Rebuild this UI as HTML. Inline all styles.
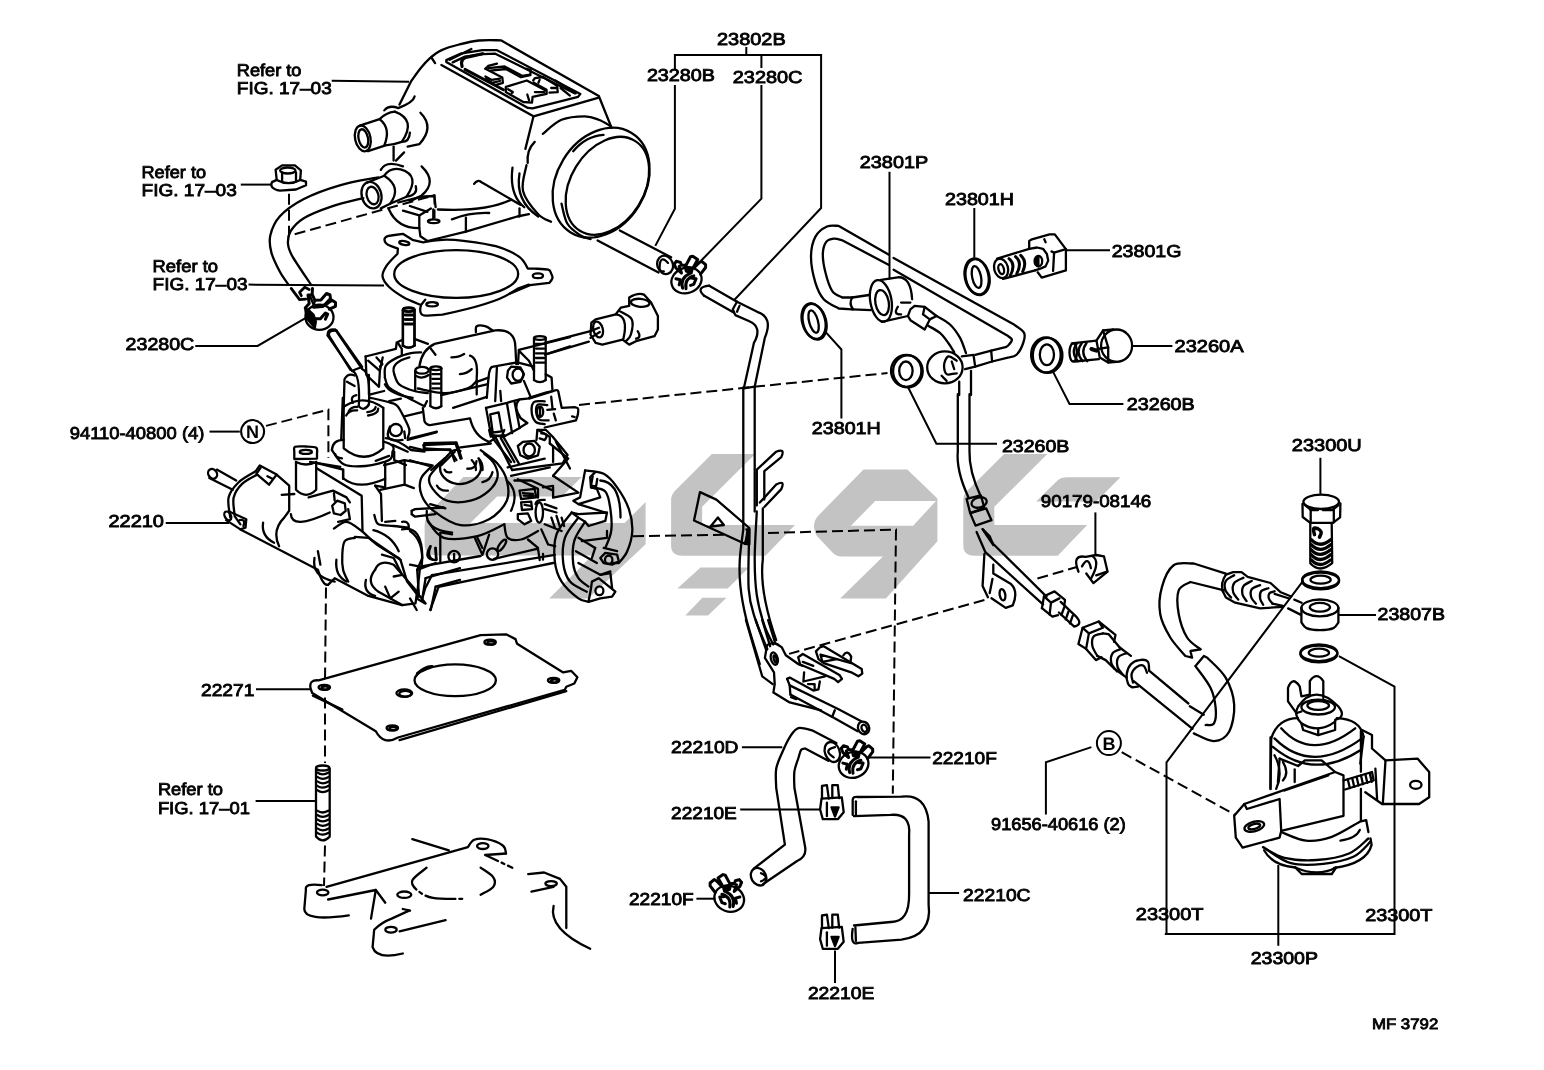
<!DOCTYPE html>
<html><head><meta charset="utf-8"><title>Carburetor assembly diagram</title>
<style>
html,body{margin:0;padding:0;background:#fff}
body{width:1544px;height:1070px;overflow:hidden}
svg{display:block}
text{text-rendering:geometricPrecision;font-family:"Liberation Sans",sans-serif;fill:#000;stroke:#000;stroke-width:.85px}
.wm{fill:#c3c3c3;stroke:none}
.ln{fill:none;stroke:#000;stroke-width:2.3;stroke-linecap:round;stroke-linejoin:round}
.wf{fill:#fff;stroke:#000;stroke-width:2;stroke-linecap:round;stroke-linejoin:round}
.ld{fill:none;stroke:#000;stroke-width:2;stroke-linecap:butt;stroke-linejoin:miter}
.ds{fill:none;stroke:#000;stroke-width:2;stroke-dasharray:11 5}
</style></head><body>
<svg width="1544" height="1070" viewBox="0 0 1544 1070">
<defs><filter id="nf" filterUnits="userSpaceOnUse" x="0" y="0" width="1544" height="1070"><feOffset dx="0" dy="0"/></filter></defs>
<rect width="1544" height="1070" fill="#fff"/>
<g class="wm">
<path d="M1004.1 454.1L1047.3 454.1L994.3 506.7L994.3 525.0L1087.2 525.0L1057.7 555.8L975.0 555.8Q963.3 555.8 963.3 545.8L963.3 500Q963.3 495 967.0 491Z"/>
<path d="M711.9 454.1L755.1 454.1L702.1 506.7L702.1 525.0L795.0 525.0L765.5 555.8L682.8 555.8Q671.1 555.8 671.1 545.8L671.1 500Q671.1 495 674.8 491Z"/>
<path d="M1066 477.3L1120.5 477.3L1096.3 501.5L1036.1 501.5L1058 480Q1061 477.3 1066 477.3Z"/>
<path fill-rule="evenodd" d="M863.5 469.4L907.3 469.4L937.4 498.6L937.4 541.3L885.9 598.6L840.2 598.6L883 556.5L842 556.5Q836 556.5 832 552L817 536Q814 532 814 527Q814 520 818 516Z M875.2 500.9L936 500.9L913.1 525.8L850.9 525.8Z"/>
<path d="M700.6 567.5L748.8 567.5L727.7 588.6L677.3 588.6Z"/>
<path d="M702.4 597.7L726.5 597.7L708 615.5L685.3 615.5Z"/>
<path d="M463.4 477L581.6 477L562 496.5L497 496.5L470.4 523.1L624.5 523.1L645.6 502.1L645.6 544.2L588.1 598.4L549.2 598.4L592.2 555.5L437 555.5Q424.6 555.5 424.6 544L424.6 526Q424.6 518 430 512Z"/>
</g>
<g class="ds">
<path d="M289.0 193.7L289.0 235.8L434.5 195.3"/>
<path d="M417.0 198.0L434.5 195.3L434.5 218.0"/>
<path d="M266.0 425.9L328.4 409.7L328.4 457.9"/>
<path d="M326.0 587.5L325.0 682.0"/>
<path d="M325.0 697.5L325.0 763.0"/>
<path d="M325.0 845.6L324.0 886.0"/>
<path d="M579.0 405.0L887.5 373.0"/>
<path d="M633.0 536.3L724.2 534.7"/>
<path d="M768.0 533.0L896.0 529.6L895.1 600.0L892.8 793.7"/>
<path d="M984.4 600.0L789.0 653.9"/>
<path d="M1037.4 578.5L1077.8 566.7"/>
<path d="M1121.7 752.2L1234.5 814.5"/>
</g>
<g class="ln">
<path d="M399.5 104.6L411.1 81.3C412.7 79.2 417.3 72.3 420.4 68.5C423.6 64.6 426.5 61.3 430.0 58.2C433.5 55.1 436.8 52.3 441.7 50.1C446.5 47.8 452.9 46.0 459.1 44.5C465.4 42.9 472.0 41.2 479.0 40.5C485.9 39.8 497.2 40.3 500.9 40.3L598.8 96.0L611.6 127.9"/>
<path d="M441.4 65.0L533.5 116.3L598.8 97.6"/>
<path d="M533.5 116.3L525.4 148.9"/>
<path d="M431.4 57.5L435.1 63.1"/>
<path d="M446.3 60.1L460.3 53.7L482.5 50.2L497.0 50.2L580.4 93.9L578.1 96.8L532.6 108.4L527.9 107.9L446.3 62.0Z"/>
<path d="M452.7 62.4L465.0 56.6L482.5 54.2L495.3 53.7L574.6 93.3"/>
<path d="M449.8 59.7L471.4 49.0"/>
<path d="M462.1 66.5Q459.4 57.4 469.6 56.6L482.5 53.7" style="stroke-width:3.2"/>
<path d="M465.0 69.4L503.4 89.8" style="stroke-width:3"/>
<path d="M485.4 68.8L488.3 65.9L497.0 63.6"/>
<path d="M488.3 68.2L504.6 66.5L522.1 75.8L530.3 74.6L530.8 70.0L526.8 68.8"/>
<path d="M485.4 68.8L502.3 77.6L502.9 82.8L495.3 85.1"/>
<path d="M490.6 70.6L505.8 69.0L520.9 77.2L530.3 75.2"/>
<path d="M485.4 76.4L491.8 79.9L499.9 78.7"/>
<path d="M486.0 78.1L491.8 82.8L499.9 81.0"/>
<path d="M505.8 86.9L526.8 80.5L546.6 91.0L546.6 93.9L532.6 96.8L532.0 102.6L523.3 102.0L505.8 92.1Z"/>
<path d="M508.1 89.2L512.8 92.1L511.6 93.3"/>
<path d="M527.3 94.5L529.1 100.3"/>
<path d="M534.9 92.1L544.2 92.1"/>
<path d="M533.2 80.5L534.9 78.1L543.1 77.0L557.1 85.7L557.7 92.1L549.5 92.7"/>
<path d="M533.8 82.8L546.6 89.8"/>
<path d="M539.6 79.9L538.4 82.8"/>
<path d="M551.2 88.0L555.9 88.0"/>
<path d="M555.3 80.5L575.7 93.3"/>
<path d="M560.6 88.0L569.9 95.6"/>
<ellipse cx="601.1" cy="182.7" rx="44.3" ry="58.3" transform="rotate(31.5 601.1 182.7)"/>
<ellipse cx="607.4" cy="185.8" rx="36.8" ry="52.7" transform="rotate(31.5 607.4 185.8)"/>
<path d="M561.5 203.7C562.5 207.0 564.2 218.3 567.3 223.5C570.4 228.8 576.3 232.6 580.2 235.2C584.0 237.8 588.9 238.5 590.6 239.1"/>
<path d="M573.2 151.2Q586.0 136.1 603.5 134.9"/>
<path d="M542.8 133.8C546.0 131.4 554.5 122.7 561.5 119.8C568.5 116.9 578.6 116.3 584.8 116.3C591.0 116.3 594.5 118.1 598.8 119.8C603.1 121.4 608.5 125.0 610.5 126.1"/>
<path d="M526.5 165.2C525.9 169.5 521.1 182.7 523.0 190.9C525.0 199.0 533.5 209.1 538.2 214.2C542.8 219.3 548.9 220.4 551.0 221.7"/>
<path d="M519.5 173.4Q514.9 200.8 538.2 216.5"/>
<path d="M512.5 167.6Q509.0 194.4 524.2 207.2"/>
<path d="M534.7 141.9Q526.5 150.1 527.7 162.9"/>
<path d="M597.6 240.5L658.5 272.5"/>
<path d="M619.8 230.5L671.1 257.3"/>
<ellipse cx="362.8" cy="138.4" rx="7.7" ry="13.1" transform="rotate(-12.0 362.8 138.4)"/>
<ellipse cx="363.3" cy="138.4" rx="4.7" ry="9.3" transform="rotate(-12.0 363.3 138.4)"/>
<path d="M359.8 125.6L379.6 119.1Q386.0 112.5 394.8 111.6"/>
<path d="M368.0 151.2L385.5 145.4Q393.6 144.8 401.8 141.9"/>
<path d="M379.6 119.1Q391.3 128.3 384.3 145.4"/>
<path d="M394.8 111.6Q416.9 119.8 401.8 141.9"/>
<path d="M384.3 110.4Q389.0 104.6 398.3 108.1Q413.4 102.3 414.6 96.5"/>
<path d="M401.8 141.9Q409.4 141.9 409.9 132.6"/>
<path d="M420.4 112.8Q435.0 127.3 419.3 144.2L407.6 146.6"/>
<path d="M393.6 146.6L393.6 160.6"/>
<path d="M396.0 160.6L404.1 152.4"/>
<ellipse cx="371.5" cy="195.1" rx="9.8" ry="13.5" transform="rotate(-15.0 371.5 195.1)"/>
<ellipse cx="372.6" cy="195.5" rx="5.8" ry="8.9" transform="rotate(-15.0 372.6 195.5)"/>
<path d="M366.8 182.7L384.3 175.7Q390.1 167.2 400.6 169.4Q421.0 175.4 406.5 196.7L390.1 203.7L380.8 208.4"/>
<path d="M384.3 175.7Q402.4 187.4 390.1 203.7"/>
<path d="M380.8 169.9Q386.0 160.0 403.0 166.4"/>
<path d="M421.6 166.4Q437.9 182.1 421.6 195.5L409.9 201.4"/>
<path d="M406.5 196.7Q418.1 195.0 415.8 186.2"/>
<path d="M389.0 209.5Q397.1 228.2 419.3 228.2L420.4 236.3L427.4 241.0L465.9 231.7L517.2 216.5L528.9 214.2"/>
<path d="M419.3 216.5L419.3 228.2"/>
<path d="M465.9 217.7L465.9 231.7"/>
<path d="M519.5 208.4L519.5 216.5"/>
<path d="M437.9 209.5Q485.1 212.1 511.4 199.7"/>
<path d="M451.9 219.3Q470.6 212.2 489.2 213.0"/>
<path d="M474.1 183.9Q477.6 179.2 481.1 182.0L520.7 204.9"/>
<path d="M398.3 202.5L421.6 196.7L434.4 196.0L435.6 207.2"/>
<path d="M403.0 210.7L419.3 215.4L430.9 208.4"/>
<path d="M433.3 209.5L433.3 218.9"/>
<ellipse cx="433.7" cy="221.2" rx="5.8" ry="1.9" transform="rotate(0.0 433.7 221.2)"/>
<path d="M409.9 206.0L427.4 211.9"/>
<path d="M276.7 179.9L275.6 169.7L282.1 165.4L294.9 165.4L300.9 170.3L300.2 179.9"/>
<ellipse cx="287.8" cy="170.5" rx="7.7" ry="3.0" transform="rotate(0.0 287.8 170.5)"/>
<path d="M276.7 179.9L272.0 182.1Q268.9 188.5 279.9 190.6L296.0 189.5L306.0 185.3L306.0 181.6L300.2 179.9"/>
<path d="M276.7 179.9Q288.5 186.3 300.2 179.9"/>
<path d="M282.1 172.4L282.1 182.1"/>
<path d="M296.0 172.4L296.0 181.6"/>
<path d="M378.2 177.4C371.8 178.7 352.2 181.6 339.8 185.3C327.3 188.9 313.4 194.0 303.4 199.2C293.5 204.3 285.4 210.2 279.9 216.3C274.4 222.3 271.7 229.4 270.3 235.5C268.9 241.5 269.8 246.5 271.4 252.6C273.0 258.6 277.1 266.5 279.9 271.8C282.8 277.2 287.0 282.5 288.5 284.6"/>
<path d="M363.3 198.1C357.9 199.5 341.2 203.3 331.2 206.6C321.2 210.0 310.2 214.3 303.4 218.4C296.7 222.5 293.2 226.9 290.6 231.2C288.0 235.5 287.7 239.8 288.0 244.0C288.4 248.3 288.9 250.1 292.7 256.9C296.6 263.6 307.9 280.0 310.9 284.6"/>
<ellipse cx="319.5" cy="317.3" rx="14.0" ry="12.6" transform="rotate(0.0 319.5 317.3)"/>
<path d="M305.2 308.0L306.3 318.1L314.8 327.7L315.9 321.5L313.6 314.8L309.2 310.6Z" style="fill:#000"/>
<path d="M314.8 318.7L320.4 318.7L325.4 313.1L327.7 314.2L325.4 319.2" style="stroke-width:3"/>
<path d="M305.2 308.0L309.2 303.5L308.0 295.1L312.5 295.1L314.8 300.2L320.9 299.9L326.5 293.5L329.9 294.6L330.5 298.5L324.8 304.7" style="stroke-width:3"/>
<path d="M327.1 303.5L332.1 300.2L335.5 302.4L335.5 306.3L329.3 309.2" style="stroke-width:3"/>
<path d="M313.6 306.9L322.6 306.3L327.1 303.5" style="stroke-width:3.5"/>
<path d="M310.3 296.8L313.6 304.7"/>
<path d="M314.8 300.2L313.6 306.9"/>
<path d="M291.2 288.4L299.6 299.6L305.8 299.1" style="stroke-width:2.8"/>
<path d="M309.2 289.5L304.7 287.3L299.6 292.3L301.3 295.7" style="stroke-width:2.8"/>
<path d="M312.5 288.4L312.2 293.5" style="stroke-width:3"/>
<path d="M384.6 238.7Q385.7 236.0 391.1 235.5L402.8 233.8L412.4 239.8L423.1 242.3C426.3 241.9 435.6 240.0 442.4 239.8C449.1 239.5 454.8 239.8 463.7 240.8C472.6 241.9 486.5 243.5 495.8 246.2C505.1 248.9 514.0 253.1 519.3 256.9C524.6 260.6 526.4 266.7 527.8 268.6L534.3 268.6C536.6 268.8 545.3 268.8 548.2 269.7C551.0 270.6 550.6 272.5 551.4 274.0C552.1 275.4 552.8 276.7 552.4 278.2C552.1 279.7 549.8 282.2 549.2 282.9L530.0 285.1L509.7 293.6Q494.2 303.7 442.4 314.6L427.4 315.6Q417.8 316.7 421.0 305.0C418.1 303.7 409.2 300.5 403.9 297.5C398.5 294.4 392.5 290.3 388.9 286.8C385.4 283.2 382.9 279.7 382.5 276.1C382.2 272.5 384.3 269.2 386.8 265.4C389.3 261.7 395.7 255.6 397.5 253.7L397.9 248.7L391.1 246.2Q383.6 243.5 384.6 238.7"/>
<ellipse cx="456.2" cy="274.0" rx="62.0" ry="23.9" transform="rotate(0.0 456.2 274.0)"/>
<ellipse cx="404.3" cy="243.0" rx="5.1" ry="1.9" transform="rotate(10.0 404.3 243.0)"/>
<ellipse cx="537.9" cy="275.7" rx="5.1" ry="2.4" transform="rotate(0.0 537.9 275.7)"/>
<ellipse cx="432.1" cy="304.3" rx="5.8" ry="2.1" transform="rotate(0.0 432.1 304.3)"/>
<path d="M509.7 293.6L517.2 288.9L528.9 284.6"/>
<path d="M425.3 299.6L421.0 305.0"/>
<path d="M402.8 310.3L402.8 345.6"/>
<path d="M414.6 310.3L414.6 345.6"/>
<ellipse cx="408.6" cy="309.9" rx="5.8" ry="1.9" transform="rotate(0.0 408.6 309.9)"/>
<path d="M402.8 345.6Q408.5 349.8 414.6 345.6"/>
<path d="M405.0 314.6L412.4 314.6"/>
<path d="M405.0 319.5L412.4 319.5"/>
<path d="M405.0 324.4L412.4 324.4"/>
<path d="M329.1 335.9L350.5 369.9"/>
<path d="M336.6 330.6L362.2 366.9"/>
<path d="M329.1 335.9Q327.5 330.1 336.6 330.6"/>
<path d="M403.0 309.4L403.0 345.6"/>
<path d="M414.4 309.4L414.4 345.6"/>
<ellipse cx="408.7" cy="309.4" rx="5.7" ry="1.9" transform="rotate(0.0 408.7 309.4)"/>
<path d="M403.0 345.6Q408.7 349.6 414.4 345.6"/>
<path d="M405.0 315.3L413.1 315.3"/>
<path d="M405.0 319.5L413.1 319.5"/>
<path d="M405.0 323.7L413.1 323.7"/>
<path d="M430.4 368.3L430.4 406.2"/>
<path d="M441.3 368.3L441.3 406.2"/>
<ellipse cx="435.9" cy="368.3" rx="5.5" ry="1.9" transform="rotate(0.0 435.9 368.3)"/>
<path d="M430.4 406.2Q435.7 410.2 441.3 406.2"/>
<path d="M432.4 374.2L440.0 374.2"/>
<path d="M432.4 378.9L440.0 378.9"/>
<path d="M432.4 383.6L440.0 383.6"/>
<path d="M432.4 388.3L440.0 388.3"/>
<path d="M534.0 338.0L534.0 380.1"/>
<path d="M545.7 338.0L545.7 380.1"/>
<ellipse cx="539.9" cy="338.0" rx="5.9" ry="1.9" transform="rotate(0.0 539.9 338.0)"/>
<path d="M534.0 380.1Q539.9 384.1 545.7 380.1"/>
<path d="M536.0 343.9L544.4 343.9"/>
<path d="M536.0 348.6L544.4 348.6"/>
<path d="M536.0 353.3L544.4 353.3"/>
<path d="M536.0 358.0L544.4 358.0"/>
<path d="M536.0 362.7L544.4 362.7"/>
<path d="M327.7 335.5L352.1 370.8Q360.5 373.4 358.8 406.2"/>
<path d="M335.3 329.6L362.2 369.1Q370.6 371.7 368.9 404.5"/>
<path d="M327.7 335.5Q327.3 328.3 335.3 329.6"/>
<path d="M358.8 406.2Q363.9 412.1 368.9 404.5"/>
<path d="M352.1 370.8L360.5 367.5"/>
<path d="M344.5 406.2Q363.9 393.6 383.3 407.9"/>
<path d="M343.7 407.9L343.7 448.3Q364.3 465.1 383.3 448.3L383.3 407.9"/>
<path d="M343.7 407.9L344.5 379.2Q347.9 372.7 354.6 375.5"/>
<path d="M341.2 439.9L342.8 397.8"/>
<path d="M347.0 381.8L354.6 386.0"/>
<path d="M352.9 402.8Q349.6 396.5 356.3 395.2"/>
<path d="M346.2 415.5Q349.2 409.6 357.1 410.4"/>
<path d="M348.7 411.2Q351.3 406.6 357.1 407.0"/>
<path d="M368.1 415.5Q378.2 413.8 378.2 408.7"/>
<path d="M367.3 412.1Q374.8 411.2 375.7 407.0"/>
<path d="M331.9 450.0Q332.7 439.9 343.7 439.9"/>
<path d="M383.3 441.6Q397.1 444.9 392.5 451.7C392.0 453.1 393.6 457.7 389.1 460.1C384.7 462.5 373.1 465.3 365.6 466.0C358.0 466.7 349.3 467.0 343.7 464.3C338.1 461.6 333.9 452.4 331.9 450.0"/>
<path d="M335.3 454.2Q335.3 457.1 342.0 458.4"/>
<path d="M375.7 460.9L389.1 455.9"/>
<path d="M365.6 356.5L395.9 348.9L396.7 342.5L402.6 339.7"/>
<path d="M414.4 338.8L427.9 343.9"/>
<path d="M365.6 356.5L366.4 375.0L379.0 386.8L379.9 370.8"/>
<path d="M368.1 360.7L379.9 370.8L382.7 357.4"/>
<path d="M397.6 342.5L401.8 348.9L401.8 354.8"/>
<path d="M376.5 357.4L382.4 364.1L379.9 366.6"/>
<path d="M368.9 375.0L368.9 394.4"/>
<path d="M370.6 394.4L384.1 391.0"/>
<path d="M370.6 397.8C374.0 398.6 386.3 401.4 390.8 402.8C395.3 404.2 395.3 403.7 397.6 406.2C399.8 408.7 402.3 414.0 404.3 418.0C406.3 421.9 408.8 426.4 409.4 429.8C409.9 433.1 407.9 436.8 407.7 438.2"/>
<path d="M384.9 377.6C385.1 375.6 383.7 369.1 385.8 365.8C387.9 362.4 393.4 359.5 397.6 357.4C401.8 355.3 407.1 354.0 411.0 353.1C415.0 352.3 419.5 352.4 421.1 352.3"/>
<path d="M384.9 377.6C385.6 379.2 385.9 384.6 389.1 387.7C392.4 390.8 398.4 393.0 404.3 396.1C410.2 399.2 421.1 404.5 424.5 406.2"/>
<path d="M394.2 374.2Q390.0 362.4 409.4 357.4"/>
<path d="M394.2 374.2C395.0 375.9 395.9 381.5 399.2 384.3C402.6 387.1 409.6 389.6 414.4 391.0C419.2 392.5 425.6 392.7 427.9 393.1"/>
<path d="M384.9 384.3Q389.6 394.4 412.7 397.8"/>
<path d="M424.5 406.2L427.0 401.1"/>
<path d="M419.5 365.8Q422.0 349.8 434.6 343.9L495.2 330.4Q515.4 328.7 515.4 347.3L516.3 364.1"/>
<path d="M470.0 355.7Q478.4 358.2 476.7 377.6L476.7 394.4"/>
<path d="M417.8 388.5C422.3 389.3 436.3 393.1 444.7 393.1C453.1 393.0 463.0 390.0 468.3 388.0C473.6 386.0 475.3 382.1 476.7 380.9"/>
<path d="M475.9 332.1C476.0 331.1 475.2 327.2 476.7 326.2C478.3 325.2 482.5 325.5 485.1 326.2C487.8 326.9 491.4 329.7 492.7 330.4"/>
<path d="M451.4 357.4Q458.6 357.4 464.1 354.0"/>
<path d="M459.9 374.2Q467.4 373.4 471.7 369.1"/>
<path d="M430.4 348.1L435.5 354.8"/>
<path d="M415.2 370.8L415.2 391.0"/>
<ellipse cx="422.0" cy="370.3" rx="6.7" ry="3.4" transform="rotate(0.0 422.0 370.3)"/>
<path d="M416.1 375.9Q421.6 379.7 428.7 375.0"/>
<path d="M518.8 349.8L570.0 337.1"/>
<path d="M546.6 354.0L570.0 346.4"/>
<path d="M441.3 395.2L486.8 384.3"/>
<path d="M453.1 407.9L486.8 396.9"/>
<path d="M476.7 381.8L488.5 377.6"/>
<path d="M404.3 416.3L422.0 412.1"/>
<path d="M389.1 401.1L400.9 398.6"/>
<path d="M407.7 439.9L436.3 432.3"/>
<path d="M422.8 407.9L424.5 421.3Q427.0 426.4 432.9 424.7L470.0 418.3Q474.2 436.3 488.5 441.6"/>
<path d="M424.5 443.2L456.5 442.4L461.6 458.4"/>
<path d="M424.5 448.3L449.8 450.0L456.5 460.1"/>
<path d="M424.5 443.2L424.5 448.3"/>
<ellipse cx="395.9" cy="430.1" rx="6.1" ry="6.1" transform="rotate(0.0 395.9 430.1)"/>
<path d="M390.0 426.4Q382.0 443.2 402.6 439.9"/>
<path d="M404.3 431.4L405.1 438.2"/>
<path d="M385.8 438.2Q396.7 439.0 411.0 450.0L424.5 451.7"/>
<path d="M392.5 444.9L407.7 451.7"/>
<path d="M394.2 451.7L394.2 460.1L406.0 465.1"/>
<path d="M486.8 397.8L488.5 377.6Q489.3 366.2 493.5 366.6L517.1 362.4L534.0 366.6"/>
<path d="M500.3 391.0L501.1 401.1"/>
<path d="M496.9 367.5L495.2 401.1"/>
<path d="M518.0 364.1L518.8 350.6L528.9 360.7L534.0 370.8"/>
<path d="M545.7 374.2L551.6 377.6L552.5 391.0L545.7 392.7L528.9 397.8"/>
<path d="M507.9 370.8L511.2 366.6L520.5 367.5L523.9 374.2L520.5 381.8L511.2 383.5L507.0 377.6Z"/>
<ellipse cx="518.0" cy="374.7" rx="5.4" ry="6.1" transform="rotate(0.0 518.0 374.7)"/>
<path d="M523.9 380.9L530.6 396.9"/>
<path d="M529.0 398.7L553.8 390.8Q558.1 388.9 558.4 392.1L561.7 407.8L574.7 407.2C575.3 407.4 577.5 407.4 578.0 408.5C578.6 409.6 578.3 411.8 578.0 413.7C577.7 415.7 576.4 419.2 576.0 420.3L544.7 427.5"/>
<path d="M544.7 401.3C542.9 401.4 536.4 400.3 534.2 401.9C532.0 403.6 531.4 407.8 531.6 411.1C531.8 414.4 533.3 419.4 535.5 421.6C537.7 423.8 543.1 423.8 544.7 424.2"/>
<path d="M547.3 405.2C545.7 405.1 540.0 403.5 538.1 404.6C536.3 405.7 535.9 409.3 536.1 411.8C536.4 414.3 537.3 418.2 539.4 419.6C541.5 421.0 547.1 420.2 548.6 420.3"/>
<ellipse cx="540.1" cy="411.8" rx="3.1" ry="5.2" transform="rotate(0.0 540.1 411.8)"/>
<path d="M540.1 407.2L540.1 416.3"/>
<path d="M551.2 396.7L552.5 408.5"/>
<path d="M547.3 409.8L555.1 409.1"/>
<path d="M553.8 413.7L555.8 420.3"/>
<path d="M572.1 416.3L574.7 417.0"/>
<path d="M486.0 407.9L507.0 402.8L518.8 399.5L527.2 398.6"/>
<path d="M486.0 407.9L491.0 434.8L503.7 436.8L518.8 428.4L527.2 423.0"/>
<path d="M490.2 414.3L498.6 412.3L502.0 431.4L492.7 432.5Z"/>
<path d="M507.0 403.7L512.1 433.1"/>
<path d="M514.6 402.0L519.6 428.1"/>
<path d="M518.8 400.3Q512.9 406.6 520.5 418.0L527.2 423.0"/>
<path d="M495.2 436.5L512.1 470.0"/>
<path d="M503.7 437.3L518.8 463.4"/>
<path d="M488.5 442.4L495.2 438.2"/>
<path d="M537.3 429.8L545.7 429.8L552.5 436.5L567.6 455.0L562.6 463.4L512.1 470.0"/>
<path d="M537.3 430.6L536.5 439.9"/>
<path d="M555.9 441.6L570.0 468.5"/>
<path d="M478.4 458.4Q483.0 462.7 482.6 470.0"/>
<path d="M471.7 460.1Q476.3 465.2 475.9 470.0"/>
<path d="M444.7 458.4L431.2 470.0"/>
<path d="M454.8 451.7L441.3 465.1"/>
<path d="M384.1 465.1L404.3 460.1"/>
<path d="M310.0 461.8L340.3 466.8"/>
<path d="M404.3 460.1L431.2 465.1"/>
<path d="M209.3 478.0L232.8 489.8"/>
<path d="M216.8 469.6L236.2 480.5"/>
<ellipse cx="212.6" cy="473.8" rx="4.2" ry="5.1" transform="rotate(-35.0 212.6 473.8)"/>
<path d="M230.3 517.6C230.0 514.2 227.2 503.3 228.6 497.4C230.0 491.5 234.2 486.6 238.7 482.2C243.2 477.9 252.8 473.1 255.6 471.3"/>
<path d="M234.5 514.2C234.4 511.4 232.4 502.4 233.7 497.4C234.9 492.3 238.2 487.7 242.1 483.9C246.0 480.1 254.7 476.2 257.3 474.6"/>
<path d="M255.6 471.3L259.8 465.4L276.6 474.6L269.0 484.7L257.3 474.6"/>
<path d="M267.4 476.3L272.4 478.8"/>
<path d="M260.6 467.9L256.4 473.8"/>
<ellipse cx="227.8" cy="515.9" rx="3.0" ry="4.7" transform="rotate(-30.0 227.8 515.9)"/>
<path d="M228.6 511.3L246.3 519.2L245.5 527.7L240.4 529.4L226.1 520.1"/>
<path d="M234.5 515.9L240.4 524.3"/>
<path d="M239.6 520.1Q246.1 518.8 243.4 526.0"/>
<path d="M240.4 529.4L317.9 569.8Q322.9 585.8 328.0 584.9"/>
<path d="M276.6 474.6L289.2 485.6L289.2 510.8L284.2 517.6Q271.6 530.2 279.1 546.2"/>
<path d="M281.7 494.8L294.3 494.0"/>
<path d="M263.1 522.6Q261.0 536.1 274.1 542.8"/>
<path d="M294.3 458.6L294.3 451.9C294.4 451.0 293.2 447.7 295.1 446.8C297.1 445.9 302.6 446.4 306.1 446.5C309.6 446.6 314.4 446.5 316.2 447.7C318.0 448.9 316.9 452.6 317.0 453.6L317.0 458.6L294.3 459.0"/>
<ellipse cx="305.8" cy="451.9" rx="6.1" ry="2.0" transform="rotate(0.0 305.8 451.9)"/>
<path d="M296.0 462.0L296.0 489.8Q306.1 499.9 316.2 489.8L316.2 462.0"/>
<path d="M296.0 462.0Q306.1 467.0 316.2 462.0"/>
<path d="M290.9 514.2Q291.8 530.2 329.7 512.5"/>
<path d="M308.6 497.4L333.0 490.6L346.5 497.4L349.9 502.4"/>
<path d="M332.2 505.8L337.2 500.7L344.8 503.3L345.7 510.8L340.6 515.0L333.9 513.4Z"/>
<path d="M348.2 509.1L349.9 519.2L338.1 521.8"/>
<path d="M333.9 493.1L334.7 500.7"/>
<path d="M316.2 462.8L343.1 469.6L343.1 478.8"/>
<path d="M316.2 467.9L361.7 495.7L362.5 531.0"/>
<path d="M333.9 528.5C336.0 527.4 341.9 521.4 346.5 521.8C351.1 522.2 356.6 527.2 361.7 531.0C366.7 534.8 370.6 540.0 376.8 544.5C383.0 549.0 395.1 555.7 398.7 558.0"/>
<path d="M354.9 536.9L368.4 537.8L400.4 559.7"/>
<path d="M354.9 537.8C353.2 538.3 346.9 538.3 344.8 541.1C342.7 543.9 342.6 549.8 342.3 554.6C342.0 559.4 342.2 565.3 343.1 569.8C344.1 574.3 347.3 579.6 348.2 581.6"/>
<path d="M336.4 559.7Q334.7 575.7 346.5 581.6"/>
<path d="M317.9 551.2L320.4 564.7"/>
<path d="M314.5 558.0Q311.1 576.5 334.7 581.6"/>
<path d="M328.0 584.9L334.7 578.2L368.4 595.9L402.1 605.1L415.5 603.4L417.2 591.7"/>
<path d="M365.9 579.9Q362.9 592.1 375.1 595.9"/>
<path d="M375.1 569.8Q365.0 582.4 378.5 591.7L402.1 605.1"/>
<path d="M375.1 569.8Q379.3 558.8 393.7 564.7L417.2 591.7"/>
<path d="M381.9 554.6L393.7 558.0L402.1 574.8L393.7 576.5"/>
<path d="M385.2 586.6L390.3 598.4L398.7 591.7"/>
<path d="M400.4 559.7L407.1 581.6L418.9 596.7"/>
<path d="M417.2 569.8L435.7 563.0"/>
<path d="M417.2 569.8L418.9 595.0L425.6 603.4"/>
<path d="M425.6 578.2L460.0 568.1"/>
<path d="M425.6 578.2L422.3 598.4"/>
<path d="M435.7 586.6L460.0 579.9"/>
<path d="M435.7 586.6L430.7 610.0"/>
<path d="M344.0 478.8Q358.7 490.6 385.2 478.8"/>
<path d="M385.2 462.8L385.2 487.3L375.1 485.6"/>
<path d="M404.6 461.2L404.6 484.7L380.2 489.8"/>
<path d="M404.6 484.7L413.9 488.1"/>
<path d="M375.1 485.6L381.0 494.0L381.9 520.9"/>
<path d="M343.1 469.6L343.1 478.8"/>
<path d="M374.3 515.0C375.0 516.6 375.3 522.5 378.5 524.3C381.7 526.1 388.6 525.4 393.7 526.0C398.7 526.5 406.3 527.4 408.8 527.7"/>
<path d="M373.4 530.2Q391.1 534.8 398.7 551.2"/>
<path d="M402.1 529.4Q422.3 525.1 422.3 558.0L417.2 569.8"/>
<path d="M385.2 521.8L395.3 520.9"/>
<path d="M402.1 521.8Q408.8 520.9 408.8 526.8"/>
<path d="M430.7 546.2Q426.1 556.3 433.2 559.7"/>
<path d="M435.7 547.9L436.6 559.7"/>
<path d="M432.7 465.4C430.8 467.6 422.8 473.8 420.9 478.8C419.1 483.9 419.7 490.3 421.8 495.7C423.9 501.0 427.1 505.9 433.6 510.8C440.0 515.7 451.3 523.7 460.5 525.1C469.8 526.5 481.4 523.3 489.1 519.2C496.9 515.2 503.9 507.2 506.8 500.7C509.8 494.3 508.4 486.7 506.8 480.5C505.3 474.3 501.9 468.7 497.6 463.7C493.2 458.6 483.5 452.5 480.7 450.2"/>
<path d="M440.3 463.7C438.5 465.9 430.6 472.9 429.4 477.1C428.1 481.4 429.8 485.0 432.7 488.9C435.7 492.9 440.7 498.8 447.0 500.7C453.4 502.7 463.6 502.4 470.6 500.7C477.6 499.0 484.7 494.6 489.1 490.6C493.6 486.7 496.7 481.6 497.6 477.1C498.4 472.7 496.4 467.6 494.2 463.7C492.0 459.7 485.8 455.3 484.1 453.6"/>
<path d="M447.9 455.3C446.6 456.9 441.0 461.7 440.3 465.4C439.6 469.0 440.9 474.1 443.7 477.1C446.5 480.2 452.4 483.3 457.1 483.9C461.9 484.4 468.4 482.8 472.3 480.5C476.2 478.3 479.6 474.1 480.7 470.4C481.8 466.8 479.3 460.6 479.0 458.6"/>
<path d="M447.9 455.3Q453.4 447.3 460.5 451.0"/>
<path d="M423.5 445.2L455.5 443.5L460.5 458.6"/>
<path d="M424.3 450.2L450.4 449.4L454.6 461.2"/>
<path d="M423.5 445.2L424.3 450.2"/>
<path d="M467.3 468.7Q476.1 469.2 476.5 461.2"/>
<path d="M482.4 482.2Q490.8 480.5 492.5 472.1"/>
<path d="M436.9 485.6Q439.9 491.5 447.9 490.6"/>
<path d="M444.5 469.6Q446.2 473.4 451.3 472.1"/>
<path d="M426.8 510.8Q424.3 530.2 452.1 532.7"/>
<path d="M427.7 520.9C430.3 523.7 435.4 535.2 443.7 537.8C452.0 540.3 467.3 538.3 477.4 536.1C487.5 533.8 499.8 526.3 504.3 524.3"/>
<path d="M440.3 532.7L440.3 561.3"/>
<path d="M442.0 532.7L452.1 534.4"/>
<path d="M411.7 510.8L415.1 509.1L443.7 507.5"/>
<path d="M411.7 514.2L415.1 516.7L435.3 514.2"/>
<path d="M411.7 510.8L411.7 514.2"/>
<path d="M430.2 504.1L445.4 508.3"/>
<path d="M430.2 546.2Q422.6 559.5 435.3 560.0"/>
<path d="M435.3 547.9L436.1 560.0"/>
<ellipse cx="454.1" cy="556.6" rx="5.7" ry="5.7" transform="rotate(0.0 454.1 556.6)"/>
<path d="M454.1 553.8L454.1 559.7"/>
<path d="M474.8 537.8L482.4 554.9L489.1 534.7"/>
<path d="M477.4 537.8L482.4 547.9"/>
<ellipse cx="492.5" cy="554.1" rx="5.7" ry="5.7" transform="rotate(0.0 492.5 554.1)"/>
<ellipse cx="501.8" cy="545.3" rx="2.4" ry="6.7" transform="rotate(35.0 501.8 545.3)"/>
<path d="M420.1 566.7L480.7 556.0"/>
<path d="M494.2 558.8L538.0 548.7L539.7 560.0"/>
<path d="M431.9 575.2L554.8 554.9"/>
<path d="M438.6 586.9L553.1 563.0"/>
<path d="M420.1 566.7L416.7 598.4L425.2 603.4"/>
<path d="M431.9 575.2L425.2 588.3L421.8 600.1"/>
<path d="M438.6 586.9L430.2 610.0"/>
<path d="M410.0 564.7L420.1 566.7"/>
<path d="M410.0 598.4L416.7 610.0"/>
<path d="M410.0 531.0Q424.3 541.1 421.8 564.7"/>
<path d="M543.0 553.8L543.0 559.7"/>
<path d="M507.7 467.4L544.7 458.6"/>
<path d="M511.0 475.8L549.8 467.4"/>
<path d="M511.0 462.0L494.2 440.1L490.8 430.0"/>
<path d="M514.4 462.0L500.9 438.4L504.3 430.0"/>
<path d="M517.8 446.0L522.8 441.8L534.6 440.9L539.7 446.8L538.0 455.3L527.9 458.6L520.3 455.3Z"/>
<ellipse cx="529.2" cy="449.9" rx="5.7" ry="6.4" transform="rotate(0.0 529.2 449.9)"/>
<path d="M549.8 443.5L568.3 458.6L553.1 475.8"/>
<path d="M553.1 446.8L553.1 462.0"/>
<path d="M538.0 430.0L549.8 436.7L549.8 443.5"/>
<path d="M541.3 433.4Q549.8 433.4 544.7 440.1L539.7 438.4"/>
<path d="M553.1 475.8L578.4 492.6L553.1 497.7L553.1 487.3"/>
<path d="M517.8 479.2L538.0 488.9L538.0 497.7"/>
<path d="M543.0 487.3L553.1 485.9"/>
<path d="M514.4 480.5L531.2 480.5L553.1 490.6"/>
<path d="M519.5 490.6L534.6 488.9L536.3 497.4L521.1 499.0Z"/>
<path d="M521.1 502.4L531.2 501.6L532.1 509.1L522.0 510.0Z"/>
<path d="M517.8 514.2L527.9 513.4L531.2 520.9L524.5 524.3L517.8 519.2Z"/>
<path d="M522.8 493.1L532.9 494.0"/>
<path d="M523.7 495.7L533.8 496.0"/>
<path d="M524.5 504.9L530.4 505.8"/>
<ellipse cx="539.3" cy="512.5" rx="3.7" ry="10.1" transform="rotate(0.0 539.3 512.5)"/>
<path d="M544.7 509.1L556.5 512.5"/>
<path d="M544.7 524.3L561.6 531.0"/>
<path d="M551.4 517.6L554.8 527.7"/>
<path d="M556.5 515.9L559.9 526.8"/>
<path d="M561.6 517.6L564.1 526.0"/>
<path d="M535.5 504.1Q535.9 499.5 544.7 499.9"/>
<path d="M544.7 504.1L556.5 508.3"/>
<path d="M504.3 524.3C504.9 526.5 504.9 535.2 507.7 537.8C510.5 540.3 516.1 540.6 521.1 539.5C526.2 538.3 535.2 532.4 538.0 531.0"/>
<path d="M527.9 539.5L538.0 547.9"/>
<path d="M541.3 529.4L548.1 544.5L555.2 546.2"/>
<path d="M506.8 480.5Q519.9 492.3 511.0 510.8"/>
<path d="M489.1 430.0L490.8 436.7L504.3 435.1"/>
<path d="M410.0 438.4L436.9 431.7"/>
<path d="M410.0 446.8L423.5 450.2"/>
<path d="M458.8 447.7L490.8 443.5"/>
<path d="M410.0 460.3L430.2 466.2"/>
<path d="M585.1 470.4C588.2 471.0 598.3 471.0 603.7 473.8C609.0 476.6 612.9 481.4 617.1 487.3C621.3 493.1 626.4 501.8 628.9 509.1C631.4 516.4 632.6 524.0 632.3 531.0C632.0 538.1 629.5 545.9 627.2 551.2C625.0 556.6 620.2 561.1 618.8 563.0L612.1 563.0"/>
<path d="M591.0 487.3C593.4 488.0 602.1 487.8 605.3 491.5C608.6 495.1 609.4 502.5 610.4 509.1C611.4 515.7 612.1 524.6 611.2 531.0C610.4 537.5 606.3 545.1 605.3 547.9"/>
<path d="M600.3 480.5Q620.5 482.2 620.5 517.6"/>
<path d="M585.1 470.4L580.1 497.4L573.3 500.7L578.4 504.1L600.3 497.4L596.9 488.9L591.0 487.3L590.2 477.1L595.2 472.1"/>
<path d="M592.7 476.3L591.0 485.6L596.1 486.4L597.3 478.8"/>
<path d="M571.7 512.5C569.1 516.2 559.3 526.3 556.5 534.4C553.7 542.5 554.0 553.5 554.8 561.3C555.7 569.2 557.6 575.4 561.6 581.6C565.5 587.7 573.9 595.0 578.4 598.4C582.9 601.8 586.8 601.2 588.5 601.8"/>
<path d="M578.4 517.6C576.1 520.9 567.4 530.2 564.9 537.8C562.4 545.3 562.4 555.7 563.2 563.0C564.1 570.3 566.0 576.8 570.0 581.6C573.9 586.3 584.0 590.0 586.8 591.7"/>
<path d="M585.1 521.8C583.3 525.0 576.1 534.0 574.2 541.1C572.2 548.3 572.6 558.5 573.3 564.7C574.0 570.9 575.9 574.5 578.4 578.2C580.9 581.8 586.8 585.2 588.5 586.6"/>
<path d="M571.7 512.5L578.4 517.6L585.1 521.8L588.5 526.0L605.3 520.9L607.0 512.5L578.4 514.2L571.7 512.5"/>
<path d="M578.4 504.1L605.3 512.5"/>
<path d="M578.4 537.8L595.2 547.9"/>
<path d="M581.8 541.1L607.0 537.8L607.0 531.0"/>
<path d="M578.4 563.0L600.3 574.8L610.4 571.4"/>
<path d="M595.2 547.9L591.9 558.0"/>
<path d="M575.9 551.2L596.9 563.0"/>
<path d="M600.3 558.0L605.3 552.9L617.1 554.6L618.8 561.3L612.1 564.7L603.7 563.0Z"/>
<ellipse cx="608.7" cy="559.7" rx="3.7" ry="4.2" transform="rotate(0.0 608.7 559.7)"/>
<path d="M603.7 547.9L617.1 551.2"/>
<path d="M591.9 581.6L598.6 578.2L615.4 591.7L612.1 596.7L600.3 598.4L588.5 601.8L591.0 588.3Z"/>
<ellipse cx="599.4" cy="590.8" rx="4.0" ry="4.4" transform="rotate(0.0 599.4 590.8)"/>
<path d="M600.3 574.8L610.4 573.1L612.1 588.3"/>
<ellipse cx="665.1" cy="264.8" rx="7.7" ry="9.4" transform="rotate(-20.0 665.1 264.8)"/>
<path d="M668.0 262.9Q660.4 254.5 659.6 266.3Q659.1 272.2 663.8 271.4"/>
<path d="M545.1 342.9L590.5 331.1"/>
<path d="M545.1 354.7L588.8 341.6"/>
<path d="M591.4 322.7L595.6 319.4L615.8 314.3L620.8 307.6L629.2 305.9L629.2 297.5Q638.5 292.0 644.4 294.9L651.1 302.5L657.9 316.0L657.9 329.5L654.5 336.2L636.0 341.2L629.2 344.6L622.5 339.6L602.3 344.6L595.6 342.9L590.5 334.5Z"/>
<ellipse cx="598.1" cy="329.5" rx="4.7" ry="8.1" transform="rotate(-15.0 598.1 329.5)"/>
<path d="M619.1 310.9C621.2 312.3 629.8 315.4 631.8 319.4C633.7 323.3 631.9 330.9 630.9 334.5C629.9 338.2 626.7 340.1 625.9 341.2"/>
<path d="M615.8 314.3Q628.8 315.6 623.4 338.7"/>
<ellipse cx="640.2" cy="302.8" rx="9.3" ry="4.0" transform="rotate(5.0 640.2 302.8)"/>
<path d="M637.7 331.1Q641.9 337.5 636.0 338.7"/>
<path d="M590.5 331.1L598.9 327.8"/>
<path d="M590.5 337.9L599.8 332.0"/>
<ellipse cx="686.5" cy="280.4" rx="15.4" ry="12.6" transform="rotate(-20.0 686.5 280.4)"/>
<path d="M682.6 288.2Q679.8 277.8 690.5 273.1" style="stroke-width:3"/>
<path d="M686.0 288.8Q684.3 278.4 693.8 275.9" style="stroke-width:3"/>
<path d="M674.2 264.1L676.4 261.3L680.4 262.4L681.5 265.2L686.0 265.2L690.5 256.8L692.7 256.3L697.7 259.6L693.3 267.5" style="stroke-width:3"/>
<path d="M693.8 268.0L699.4 262.4L701.7 261.3L705.6 264.7L705.6 267.5L700.5 274.2" style="stroke-width:3"/>
<path d="M674.2 264.1L675.9 268.0L681.5 273.1L679.2 266.3" style="stroke-width:3"/>
<path d="M684.8 266.3L692.7 268.0L691.6 273.1L686.0 271.4Z" style="fill:#000"/>
<path d="M675.9 278.7L680.4 279.8L679.2 284.8" style="stroke-width:3"/>
<path d="M691.0 278.1L696.1 278.7L693.8 284.3L690.5 285.4" style="stroke-width:3"/>
<path d="M704.2 295.8L733.7 312.6"/>
<path d="M709.2 285.7L737.0 301.7"/>
<path d="M704.2 295.8Q694.9 287.4 709.2 285.7"/>
<path d="M737.0 301.7L732.8 309.2L735.3 315.1L748.8 321.0Q763.1 326.9 753.9 342.9L743.8 388.4L754.7 386.7"/>
<path d="M737.0 301.7L757.2 311.8Q773.6 317.2 764.8 337.9L754.7 386.7"/>
<path d="M739.5 305.9L737.0 311.8"/>
<path d="M743.3 387.5L743.3 529.5C742.7 534.4 740.3 549.9 739.8 559.3C739.3 568.8 739.3 576.3 740.4 586.2C741.4 596.2 743.1 606.2 746.3 619.1C749.6 632.1 757.5 656.5 759.8 664.0"/>
<path d="M754.7 386.6L754.7 511.5"/>
<path d="M749.3 529.5C749.2 539.4 747.7 574.3 748.7 589.2C749.7 604.2 752.2 609.2 755.3 619.1C758.4 629.1 765.3 644.0 767.3 649.0"/>
<path d="M756.8 511.5C756.4 519.5 754.7 545.4 754.7 559.3C754.7 573.3 755.2 584.3 756.8 595.2C758.4 606.2 761.5 616.9 764.3 625.1C767.0 633.3 771.7 641.3 773.2 644.5"/>
<path d="M762.8 508.5L762.8 559.3Q759.0 590.7 776.2 640.1"/>
<path d="M756.8 505.5L756.8 469.7L776.2 451.7Q785.6 447.9 781.3 457.1L764.3 471.2L764.3 499.6"/>
<path d="M759.8 502.6L776.2 484.6Q785.6 479.4 781.3 489.1L764.3 507.0"/>
<path d="M694.0 520.5L700.0 492.1L716.4 499.6L749.3 528.0L744.8 543.8Z"/>
<path d="M710.5 526.5L717.9 517.5L723.9 525.0Z"/>
<path d="M746.3 529.5L749.3 529.5L749.3 544.4L744.8 543.8" style="fill:#000"/>
<path d="M745.9 620.0L762.2 676.3L772.7 684.1"/>
<path d="M755.7 620.0L766.2 650.1"/>
<path d="M762.2 620.0L770.1 646.2"/>
<path d="M768.1 620.0L775.3 643.5"/>
<path d="M766.2 650.1C766.4 649.2 765.9 645.9 767.5 644.9C769.0 643.8 772.9 643.1 775.3 643.5C777.7 644.0 780.8 646.8 781.9 647.5L785.8 655.3L798.9 664.5L802.8 665.8"/>
<path d="M766.2 650.1L764.9 657.9L774.0 672.3L774.7 684.1L773.4 692.6L789.7 702.4L810.6 707.6L821.1 710.3"/>
<ellipse cx="774.3" cy="658.6" rx="3.4" ry="6.3" transform="rotate(-15.0 774.3 658.6)"/>
<ellipse cx="775.1" cy="658.9" rx="1.3" ry="3.7" transform="rotate(-15.0 775.1 658.9)"/>
<path d="M798.2 657.3L802.8 654.0L839.4 674.9L842.0 678.9L838.1 682.1L834.2 678.9L800.2 664.5Z"/>
<path d="M815.9 651.4L819.8 647.5L823.7 646.2L861.7 669.1L862.3 673.6L858.4 676.3L851.2 672.3L823.7 663.2L818.5 659.2Z"/>
<path d="M820.5 654.7L836.8 659.2L822.4 661.9Z"/>
<path d="M843.3 655.3Q847.3 649.4 851.2 656.6L850.5 661.9"/>
<path d="M802.8 661.9L813.3 665.8"/>
<path d="M836.8 659.2L851.2 663.2"/>
<path d="M787.1 678.9L789.7 677.6L813.3 690.6L818.5 689.3L819.8 681.5"/>
<path d="M804.1 672.3L803.4 681.5L825.0 676.3"/>
<path d="M808.0 684.1L814.6 684.1L814.6 689.3"/>
<path d="M789.7 685.4L838.1 709.0L861.7 721.4"/>
<path d="M790.4 694.6L834.2 718.1L857.7 731.2"/>
<path d="M787.1 678.9L789.7 685.4L790.4 694.6"/>
<path d="M791.0 697.2L796.3 699.1"/>
<path d="M834.8 710.3L832.2 716.8"/>
<ellipse cx="863.6" cy="727.9" rx="5.5" ry="6.5" transform="rotate(-25.0 863.6 727.9)"/>
<ellipse cx="864.3" cy="728.3" rx="2.6" ry="3.7" transform="rotate(-25.0 864.3 728.3)"/>
<path d="M836.4 743.0L812.0 730.3C809.7 729.9 802.1 727.1 798.4 728.1C794.8 729.1 793.0 732.2 790.3 736.3C787.6 740.3 784.5 747.1 782.2 752.5C779.8 758.0 777.2 762.9 776.2 768.8C775.2 774.7 776.2 784.6 776.2 787.8L784.9 844.7L753.7 868.6"/>
<path d="M828.3 760.7L805.2 748.5C804.5 748.7 802.3 748.2 801.2 749.8C800.0 751.4 799.6 754.3 798.4 758.0C797.3 761.6 795.1 766.5 794.4 771.5C793.7 776.5 794.4 785.1 794.4 787.8L805.2 847.4Q806.6 856.9 797.1 861.0L763.2 884.0"/>
<ellipse cx="758.6" cy="876.7" rx="7.3" ry="9.2" transform="rotate(-30.0 758.6 876.7)"/>
<path d="M761.0 873.2Q770.8 877.2 761.0 881.3"/>
<ellipse cx="832.3" cy="752.0" rx="7.3" ry="10.3" transform="rotate(-20.0 832.3 752.0)"/>
<path d="M835.0 747.1Q822.2 750.1 833.7 757.4"/>
<ellipse cx="853.6" cy="764.8" rx="15.1" ry="12.8" transform="rotate(-20.0 853.6 764.8)"/>
<path d="M849.7 772.6Q846.9 762.3 857.5 757.5" style="stroke-width:3"/>
<path d="M853.0 773.2Q851.4 762.8 860.9 760.3" style="stroke-width:3"/>
<path d="M841.3 748.5L843.5 745.7L847.4 746.9L848.6 749.7L853.0 749.7L857.5 741.3L859.8 740.7L864.8 744.1L860.3 751.9" style="stroke-width:3"/>
<path d="M860.9 752.5L866.5 746.9L868.7 745.7L872.7 749.1L872.7 751.9L867.6 758.6" style="stroke-width:3"/>
<path d="M841.3 748.5L842.9 752.5L848.6 757.5L846.3 750.8" style="stroke-width:3"/>
<path d="M851.9 750.8L859.8 752.5L858.6 757.5L853.0 755.8Z" style="fill:#000"/>
<path d="M842.9 763.1L847.4 764.2L846.3 769.3" style="stroke-width:3"/>
<path d="M858.1 762.6L863.1 763.1L860.9 768.7L857.5 769.8" style="stroke-width:3"/>
<ellipse cx="729.2" cy="898.7" rx="15.1" ry="12.8" transform="rotate(20.0 729.2 898.7)"/>
<path d="M733.1 906.5Q735.9 896.2 725.3 891.4" style="stroke-width:3"/>
<path d="M729.8 907.1Q731.4 896.7 721.9 894.2" style="stroke-width:3"/>
<path d="M741.5 882.4L739.3 879.6L735.4 880.8L734.2 883.6L729.8 883.6L725.3 875.2L723.0 874.6L718.0 878.0L722.5 885.8" style="stroke-width:3"/>
<path d="M721.9 886.4L716.3 880.8L714.1 879.6L710.1 883.0L710.1 885.8L715.2 892.5" style="stroke-width:3"/>
<path d="M741.5 882.4L739.9 886.4L734.2 891.4L736.5 884.7" style="stroke-width:3"/>
<path d="M730.9 884.7L723.0 886.4L724.2 891.4L729.8 889.7Z" style="fill:#000"/>
<path d="M739.9 897.0L735.4 898.1L736.5 903.2" style="stroke-width:3"/>
<path d="M724.7 896.5L719.7 897.0L721.9 902.6L725.3 903.7" style="stroke-width:3"/>
<path d="M821.5 798.6L841.8 797.3L843.7 812.2L837.8 819.2L822.8 819.2L820.1 809.5Z"/>
<path d="M822.0 798.6L822.0 785.9L826.9 785.1L828.8 798.6"/>
<path d="M832.3 798.1L832.3 785.1L837.8 785.1L839.1 798.1"/>
<path d="M831.5 807.3L838.6 807.3L835.0 816.5Z" style="fill:#000"/>
<path d="M826.9 802.7L826.9 816.2"/>
<path d="M821.5 928.2L841.8 926.9L843.7 941.8L837.8 948.8L822.8 948.8L820.1 939.1Z"/>
<path d="M822.0 928.2L822.0 915.5L826.9 914.7L828.8 928.2"/>
<path d="M832.3 927.7L832.3 914.7L837.8 914.7L839.1 927.7"/>
<path d="M831.5 936.9L838.6 936.9L835.0 946.1Z" style="fill:#000"/>
<path d="M826.9 932.3L826.9 945.8"/>
<path d="M852.7 814.9L852.7 800.0Q852.7 796.0 858.1 797.0L901.5 796.7Q925.9 793.5 928.6 821.7L928.6 904.4Q932.4 935.5 901.5 939.6L858.1 942.9Q850.0 946.1 852.7 928.8"/>
<path d="M854.0 816.2L890.6 814.9Q911.2 812.9 909.1 835.2L909.1 893.5Q909.6 922.7 890.6 922.0L854.0 925.5"/>
<path d="M855.9 801.3L855.9 814.9"/>
<path d="M855.4 927.4L855.9 941.0"/>
<path d="M852.3 309.3L838.8 308.5C836.3 306.9 827.6 303.5 823.7 299.2C819.7 294.8 817.4 289.4 815.3 282.4C813.2 275.3 811.0 264.7 811.0 257.1C811.0 249.5 812.6 242.0 815.3 236.9C817.9 231.8 823.1 228.3 827.0 226.5C831.0 224.6 836.9 226.0 838.8 225.9L888.5 254.6"/>
<path d="M893.6 257.9L1014.0 324.5C1015.6 325.9 1022.5 329.8 1024.1 332.9C1025.6 336.0 1024.5 339.3 1023.2 343.0C1022.0 346.6 1018.9 352.4 1016.5 354.8C1014.1 357.2 1010.2 356.9 1008.9 357.3L992.1 361.5"/>
<path d="M852.3 297.5L842.2 297.5C840.5 296.4 834.9 295.0 832.1 290.8C829.3 286.6 826.9 278.4 825.4 272.3C823.8 266.1 822.7 258.8 822.8 253.7C823.0 248.7 824.4 244.5 826.2 241.9C828.0 239.4 831.1 238.9 833.8 238.6C836.4 238.3 840.8 240.0 842.2 240.3L888.5 264.7"/>
<path d="M893.6 269.7L1007.2 335.4C1008.0 336.1 1011.7 338.1 1011.9 339.6C1012.2 341.2 1010.0 343.4 1008.9 344.7C1007.8 345.9 1006.1 346.8 1005.5 347.2L991.2 350.6"/>
<path d="M852.3 297.5L869.1 295.0"/>
<path d="M852.3 309.3L870.8 310.1"/>
<path d="M852.3 297.5Q848.5 303.4 853.1 309.3"/>
<ellipse cx="880.9" cy="300.9" rx="10.6" ry="21.0" transform="rotate(-10.0 880.9 300.9)"/>
<ellipse cx="882.1" cy="302.6" rx="6.7" ry="12.6" transform="rotate(-10.0 882.1 302.6)"/>
<path d="M880.9 279.8L897.8 277.3Q910.8 276.5 912.1 299.2"/>
<path d="M881.8 321.9L907.9 316.0"/>
<path d="M901.1 302.6L910.4 302.6"/>
<path d="M897.8 306.8Q892.7 314.8 901.1 314.4"/>
<path d="M910.4 309.3L914.6 305.9L924.7 306.8L936.5 316.0L929.8 319.4L924.7 329.5L910.4 320.2L907.9 316.0Z"/>
<path d="M929.8 319.4L923.0 314.4L924.7 306.8"/>
<path d="M936.5 316.0C938.7 317.4 946.0 320.8 950.0 324.5C953.9 328.1 957.4 333.2 960.1 337.9C962.7 342.7 965.0 350.6 966.0 353.1"/>
<path d="M927.2 325.3C929.3 326.6 936.4 329.9 939.9 332.9C943.4 335.8 945.9 339.8 948.3 343.0C950.7 346.2 953.2 350.7 954.2 352.2"/>
<ellipse cx="944.9" cy="367.4" rx="17.7" ry="16.0" transform="rotate(0.0 944.9 367.4)"/>
<path d="M956.7 360.7C955.3 360.0 950.4 355.7 948.3 356.4C946.2 357.2 944.4 361.9 944.1 364.9C943.8 367.8 944.5 372.7 946.6 374.1C948.7 375.5 955.0 373.4 956.7 373.3"/>
<path d="M951.7 361.5L954.2 369.1"/>
<path d="M941.6 375.8L946.6 380.9"/>
<path d="M961.8 356.4L973.5 354.8L975.2 366.6L965.1 369.1"/>
<path d="M975.2 354.8L991.2 350.6L992.1 361.5L975.2 366.6"/>
<path d="M959.2 381.7L959.2 395.0"/>
<path d="M971.0 370.8L971.0 395.0"/>
<ellipse cx="813.6" cy="321.1" rx="11.5" ry="18.2" transform="rotate(-15.0 813.6 321.1)"/>
<ellipse cx="813.6" cy="321.6" rx="4.4" ry="11.5" transform="rotate(-15.0 813.6 321.6)"/>
<ellipse cx="814.6" cy="321.8" rx="11.5" ry="18.2" transform="rotate(-15.0 814.6 321.8)"/>
<ellipse cx="976.6" cy="276.5" rx="11.8" ry="18.2" transform="rotate(-12.0 976.6 276.5)"/>
<ellipse cx="976.6" cy="277.0" rx="4.4" ry="11.1" transform="rotate(-12.0 976.6 277.0)"/>
<ellipse cx="977.6" cy="277.1" rx="11.8" ry="18.2" transform="rotate(-12.0 977.6 277.1)"/>
<ellipse cx="906.2" cy="370.8" rx="15.2" ry="16.0" transform="rotate(0.0 906.2 370.8)"/>
<ellipse cx="905.9" cy="370.8" rx="6.7" ry="9.3" transform="rotate(0.0 905.9 370.8)"/>
<ellipse cx="907.9" cy="371.3" rx="14.8" ry="16.0" transform="rotate(0.0 907.9 371.3)"/>
<ellipse cx="1001.1" cy="268.4" rx="6.9" ry="9.8" transform="rotate(-15.0 1001.1 268.4)"/>
<ellipse cx="1001.2" cy="269.2" rx="2.7" ry="5.1" transform="rotate(-15.0 1001.2 269.2)"/>
<path d="M997.2 258.6L1029.2 248.8"/>
<path d="M1003.1 278.9L1035.1 270.4"/>
<path d="M1009.0 258.6Q1016.2 264.5 1010.3 275.6" style="stroke-width:3"/>
<path d="M1015.5 256.6Q1022.7 262.5 1016.8 273.6" style="stroke-width:3"/>
<path d="M1020.7 255.3Q1027.6 261.5 1022.7 271.7" style="stroke-width:3"/>
<path d="M1029.2 248.8L1037.1 247.5L1043.0 248.8L1046.9 254.0L1048.2 260.6L1045.6 266.4L1041.0 268.4L1035.1 270.4"/>
<ellipse cx="1038.4" cy="261.2" rx="3.8" ry="5.2" transform="rotate(0.0 1038.4 261.2)"/>
<path d="M1038.4 256.1Q1031.9 261.2 1038.4 266.3Z" style="fill:#000"/>
<path d="M1029.2 248.1L1029.2 240.9L1031.9 239.3L1049.5 234.4L1054.8 234.4L1065.9 249.1L1065.9 270.4L1041.7 277.6L1037.7 272.3"/>
<path d="M1065.9 249.1L1054.1 252.7L1053.1 271.0"/>
<path d="M1054.1 252.7L1051.5 251.4"/>
<path d="M1044.3 239.3L1045.6 242.2"/>
<path d="M957.8 394.2L957.8 451.0Q956.0 470.5 968.4 497.2"/>
<path d="M969.5 394.2L969.5 451.0Q968.8 470.9 980.8 496.4"/>
<path d="M966.6 498.9L980.8 495.4L984.4 507.8L970.2 513.1Z"/>
<path d="M970.2 513.1L986.2 508.5L991.5 520.2L975.5 525.6Z"/>
<ellipse cx="979.1" cy="502.5" rx="7.8" ry="5.0" transform="rotate(-15.0 979.1 502.5)"/>
<path d="M982.6 529.1L993.3 544.0L1046.5 596.6"/>
<path d="M976.6 532.0L985.4 552.2L1043.0 604.4"/>
<path d="M982.6 529.1L993.3 545.1L989.7 536.2Z" style="fill:#000"/>
<path d="M1060.7 601.9L1076.7 617.2Q1082.9 624.4 1074.2 626.7L1058.9 612.5"/>
<path d="M1064.3 607.2L1061.4 615.0"/>
<path d="M1068.5 611.5L1065.7 619.3"/>
<path d="M1072.8 615.7L1069.9 623.5"/>
<path d="M984.4 554.0L982.6 585.9L987.9 597.3"/>
<path d="M993.3 564.6L993.3 573.5L1011.0 584.1Q1018.6 591.2 1012.8 605.4L1005.7 607.9L991.5 598.3"/>
<ellipse cx="1002.5" cy="594.8" rx="2.8" ry="5.7" transform="rotate(-10.0 1002.5 594.8)"/>
<path d="M992.5 578.8L989.7 593.0"/>
<path d="M1078.5 571.7Q1071.4 554.3 1085.6 556.8L1096.2 555.0L1104.0 556.4L1107.6 571.7L1093.4 583.1L1086.3 573.5"/>
<path d="M1092.7 556.4Q1100.6 561.6 1090.9 578.8"/>
<path d="M1082.0 566.4Q1088.2 554.9 1090.9 568.2"/>
<path d="M1096.2 575.3L1106.9 571.7"/>
<path d="M1082.6 627.8L1088.9 633.4L1086.1 648.9L1078.4 644.0Z"/>
<path d="M1082.6 627.8L1098.7 621.5L1115.5 634.8L1114.1 641.9"/>
<path d="M1088.9 633.4L1102.9 627.8L1098.7 621.5"/>
<path d="M1086.1 648.9L1095.9 660.1L1101.5 657.3"/>
<path d="M1102.9 633.4C1101.4 633.9 1095.5 634.1 1093.8 636.3C1092.0 638.4 1091.8 642.8 1092.4 646.1C1093.0 649.3 1096.5 654.2 1097.3 655.9"/>
<path d="M1102.9 633.4L1108.5 634.1L1119.7 647.5"/>
<path d="M1097.3 655.9L1105.7 660.1L1114.1 668.5"/>
<path d="M1121.1 648.9C1119.7 649.6 1114.3 650.7 1112.7 653.1C1111.1 655.4 1110.6 659.8 1111.3 662.9C1112.0 665.9 1116.0 669.9 1116.9 671.3"/>
<path d="M1126.7 653.1C1125.3 653.8 1119.8 654.9 1118.3 657.3C1116.8 659.6 1116.9 664.3 1117.6 667.1C1118.3 669.9 1121.7 672.9 1122.5 674.1"/>
<path d="M1119.7 647.5L1130.9 655.9"/>
<path d="M1114.1 668.5L1126.7 677.6"/>
<path d="M1149.1 670.6C1148.9 669.1 1149.4 663.2 1147.7 661.5C1146.1 659.7 1142.1 659.6 1139.3 660.1C1136.5 660.5 1133.0 661.9 1130.9 664.3C1128.8 666.6 1127.2 670.8 1126.7 674.1C1126.2 677.4 1127.2 681.7 1128.1 683.9C1129.0 686.1 1131.6 686.8 1132.3 687.4L1137.9 686.7"/>
<path d="M1147.0 672.7C1146.4 671.5 1145.3 666.6 1143.5 665.7C1141.8 664.7 1138.5 665.7 1136.5 667.1C1134.5 668.5 1132.2 671.5 1131.6 674.1C1131.0 676.7 1132.8 681.1 1133.0 682.5"/>
<path d="M1149.1 670.6L1188.4 703.5"/>
<path d="M1189.8 706.3L1203.8 714.7"/>
<path d="M1133.7 681.1L1192.6 728.8"/>
<path d="M1041.9 608.2L1044.0 596.3L1054.5 591.4L1065.0 599.8L1064.3 605.4"/>
<path d="M1041.9 608.2L1052.4 616.6L1058.0 615.2"/>
<path d="M1044.0 596.3L1051.0 602.6L1049.6 614.5"/>
<path d="M1051.0 602.6L1059.4 598.4"/>
<path d="M1225.8 573.6L1193.8 563.5C1190.4 563.8 1179.0 561.3 1173.6 565.2C1168.3 569.1 1164.1 579.0 1161.9 587.1C1159.6 595.2 1158.8 605.6 1160.2 614.0C1161.6 622.4 1166.1 630.5 1170.3 637.5C1174.5 644.5 1182.9 652.9 1185.4 656.0L1192.1 657.7L1190.4 651.0L1200.5 649.3"/>
<path d="M1224.1 590.4L1190.4 582.0C1188.5 583.4 1180.6 585.1 1178.7 590.4C1176.7 595.8 1177.3 606.1 1178.7 614.0C1180.1 621.8 1183.4 631.6 1187.1 637.5C1190.7 643.4 1198.3 647.3 1200.5 649.3"/>
<path d="M1195.5 666.1L1203.9 656.0L1207.3 657.7C1210.3 661.1 1221.3 670.0 1225.8 677.9C1230.2 685.7 1233.6 695.8 1234.2 704.8C1234.7 713.8 1232.5 725.6 1229.1 731.7C1225.8 737.7 1219.9 740.8 1214.0 741.1C1208.1 741.4 1197.2 734.7 1193.8 733.4"/>
<path d="M1195.5 666.1C1198.0 669.8 1207.3 681.0 1210.6 688.0C1214.0 695.0 1215.1 702.3 1215.7 708.2C1216.2 714.0 1215.7 720.5 1214.0 723.3C1212.3 726.1 1207.0 724.7 1205.6 725.0"/>
<path d="M1225.9 574.7L1233.2 572.1L1241.5 572.1L1247.7 576.8L1270.5 583.0L1280.8 592.3L1291.2 596.5"/>
<path d="M1222.8 591.3L1225.9 597.5L1235.2 602.7L1260.1 608.4L1282.9 606.8"/>
<path d="M1234.2 575.2C1232.8 576.2 1227.4 578.4 1225.9 580.9C1224.4 583.4 1224.5 587.5 1225.4 590.2C1226.3 593.0 1230.1 596.3 1231.1 597.5"/>
<path d="M1243.5 577.8C1242.0 578.7 1235.9 580.6 1234.2 583.0C1232.5 585.4 1232.5 589.5 1233.2 592.3C1233.9 595.1 1237.5 598.4 1238.3 599.6"/>
<path d="M1251.8 580.9C1250.4 581.8 1245.1 583.8 1243.5 586.1C1242.0 588.3 1242.0 591.9 1242.5 594.4C1243.0 596.9 1245.9 600.0 1246.6 601.1"/>
<path d="M1260.1 585.1C1258.7 585.7 1253.3 587.1 1251.8 589.2C1250.3 591.3 1250.6 595.1 1251.3 597.5C1252.0 599.9 1255.2 602.7 1256.0 603.7"/>
<path d="M1268.4 588.2C1267.2 588.7 1262.5 589.5 1261.1 591.3C1259.8 593.0 1259.8 596.3 1260.1 598.5C1260.4 600.8 1262.7 603.7 1263.2 604.7"/>
<path d="M1274.6 591.3C1273.7 591.6 1270.4 592.1 1269.4 593.3C1268.5 594.6 1268.4 596.8 1268.9 598.5C1269.4 600.3 1271.9 602.8 1272.5 603.7"/>
<path d="M1274.6 593.9L1289.1 598.5"/>
<path d="M1272.5 603.7L1282.9 605.8"/>
<path d="M1294.3 599.6L1301.6 602.7"/>
<path d="M1288.1 608.4L1300.5 614.6"/>
<path d="M1225.9 574.7Q1220.2 583.0 1222.8 591.3"/>
<ellipse cx="1320.6" cy="579.7" rx="18.5" ry="8.4" transform="rotate(0.0 1320.6 579.7)"/>
<ellipse cx="1320.6" cy="579.7" rx="10.1" ry="4.0" transform="rotate(0.0 1320.6 579.7)"/>
<ellipse cx="1320.6" cy="581.0" rx="18.5" ry="8.4" transform="rotate(0.0 1320.6 581.0)"/>
<ellipse cx="1318.9" cy="652.7" rx="18.5" ry="8.4" transform="rotate(0.0 1318.9 652.7)"/>
<ellipse cx="1318.9" cy="652.7" rx="10.1" ry="4.0" transform="rotate(0.0 1318.9 652.7)"/>
<ellipse cx="1318.9" cy="654.0" rx="18.5" ry="8.4" transform="rotate(0.0 1318.9 654.0)"/>
<ellipse cx="1319.9" cy="607.9" rx="18.5" ry="8.4" transform="rotate(0.0 1319.9 607.9)"/>
<ellipse cx="1319.9" cy="607.3" rx="10.1" ry="4.4" transform="rotate(0.0 1319.9 607.3)"/>
<path d="M1301.4 607.9L1301.4 622.4C1302.3 623.3 1303.4 626.8 1306.5 628.1C1309.6 629.4 1315.4 630.1 1319.9 630.1C1324.4 630.1 1330.3 629.4 1333.4 628.1C1336.5 626.8 1337.6 623.3 1338.4 622.4L1338.4 607.9"/>
<path d="M1298.1 706.5Q1314.9 682.9 1338.4 706.5Q1346.8 716.6 1335.1 719.9L1335.1 730.0L1318.2 735.1L1303.1 730.0L1301.4 723.3Q1293.0 714.9 1298.1 706.5"/>
<ellipse cx="1318.2" cy="705.5" rx="10.8" ry="4.4" transform="rotate(0.0 1318.2 705.5)"/>
<ellipse cx="1318.2" cy="707.1" rx="16.8" ry="7.4" transform="rotate(0.0 1318.2 707.1)"/>
<path d="M1301.4 723.3Q1318.2 734.2 1335.1 721.6"/>
<path d="M1318.2 728.3L1318.2 735.1"/>
<path d="M1301.4 711.5L1296.4 713.2L1288.0 701.4L1288.0 688.0Q1292.2 675.4 1299.7 686.3L1301.4 696.4L1309.8 694.7L1309.8 681.2Q1316.6 671.2 1323.3 681.2L1323.3 698.1"/>
<path d="M1271.2 738.4Q1277.9 718.2 1298.1 718.2"/>
<path d="M1336.7 718.2Q1360.3 719.1 1363.6 736.7"/>
<path d="M1271.2 738.4L1270.5 788.9"/>
<path d="M1363.6 736.7L1360.3 763.6"/>
<path d="M1274.5 738.4Q1311.5 775.4 1362.0 738.4"/>
<path d="M1272.8 746.8Q1313.2 780.8 1360.3 750.2"/>
<path d="M1281.2 728.3Q1311.5 762.0 1355.2 728.3"/>
<path d="M1234.2 815.8L1244.3 804.0L1335.1 772.0L1343.5 775.4L1343.5 815.8L1281.2 830.9L1279.6 837.6L1242.6 847.7L1235.8 837.6Z"/>
<ellipse cx="1254.3" cy="826.5" rx="10.1" ry="4.7" transform="rotate(-15.0 1254.3 826.5)"/>
<ellipse cx="1254.3" cy="826.5" rx="6.1" ry="2.4" transform="rotate(-15.0 1254.3 826.5)"/>
<path d="M1244.3 804.0L1246.9 809.0L1279.6 799.0L1281.2 830.9"/>
<path d="M1284.6 790.5L1328.3 775.4"/>
<path d="M1279.6 758.6L1298.1 766.0L1304.8 760.3L1321.6 760.3L1335.1 772.0"/>
<path d="M1294.7 769.4L1294.7 782.1"/>
<path d="M1279.6 758.6L1277.9 782.1"/>
<path d="M1274.5 755.2Q1283.8 772.0 1276.2 788.9"/>
<path d="M1282.9 762.0Q1289.7 772.9 1282.9 780.5"/>
<path d="M1343.5 780.5L1372.0 772.0L1373.7 780.5L1345.1 789.5"/>
<path d="M1347.8 779.4L1349.9 788.2"/>
<path d="M1352.2 778.1L1354.2 786.8"/>
<path d="M1356.6 776.8L1358.6 785.5"/>
<path d="M1361.0 775.4L1363.0 784.2"/>
<path d="M1365.3 774.1L1367.3 782.8"/>
<path d="M1369.7 773.1L1371.7 781.8"/>
<path d="M1362.0 730.0L1372.0 735.1L1372.0 748.5L1385.5 760.3L1417.5 758.6L1429.2 772.0L1429.2 797.3L1419.1 804.0L1382.1 804.0L1365.3 792.2"/>
<ellipse cx="1415.8" cy="784.8" rx="5.7" ry="4.0" transform="rotate(0.0 1415.8 784.8)"/>
<path d="M1375.4 768.7L1377.1 799.0"/>
<path d="M1385.5 760.3L1382.8 804.0"/>
<path d="M1360.9 731.0L1360.9 771.8"/>
<path d="M1360.9 789.0L1360.9 821.3L1366.2 820.2L1368.4 832.0"/>
<path d="M1270.5 737.4L1270.5 789.0"/>
<path d="M1281.3 832.0C1285.4 833.5 1297.6 839.9 1306.0 840.6C1314.4 841.4 1322.9 839.9 1331.8 836.8C1340.8 833.6 1355.1 824.2 1359.8 821.7"/>
<path d="M1263.0 847.1C1266.6 848.9 1275.6 855.7 1284.5 857.8C1293.5 860.0 1306.0 860.7 1316.8 860.0C1327.5 859.3 1340.4 857.1 1349.0 853.5C1357.6 850.0 1365.2 841.0 1368.4 838.5"/>
<path d="M1264.1 850.3Q1272.2 865.4 1295.3 867.5"/>
<path d="M1370.5 838.5L1371.6 844.9Q1366.8 863.5 1334.0 868.0"/>
<path d="M1295.3 867.5L1301.7 874.0L1331.8 874.0L1336.1 867.5"/>
<path d="M1295.3 867.5Q1317.8 877.4 1336.1 867.5"/>
<path d="M1340.4 840.6Q1356.6 838.3 1359.8 829.9"/>
<path d="M1266.2 849.2C1270.4 851.6 1281.5 860.8 1291.0 863.2C1300.5 865.7 1312.8 864.9 1323.2 863.9C1333.6 862.8 1345.4 860.5 1353.3 856.8C1361.2 853.1 1367.7 844.2 1370.5 841.7"/>
<ellipse cx="1321.2" cy="501.8" rx="17.8" ry="7.2" transform="rotate(0.0 1321.2 501.8)"/>
<path d="M1302.5 503.9L1302.7 517.0L1310.3 522.9L1333.0 522.9L1340.1 517.4L1340.4 503.5"/>
<path d="M1304.8 504.8L1311.1 510.2L1317.9 510.2"/>
<path d="M1322.9 510.2L1332.2 510.2L1338.5 505.2"/>
<path d="M1310.7 510.2L1310.7 522.4"/>
<path d="M1333.8 510.2L1333.8 522.4"/>
<path d="M1310.3 522.9L1310.3 563.2Q1319.5 573.7 1332.2 563.2L1331.7 522.9"/>
<path d="M1314.5 534.6C1314.3 533.7 1313.1 529.7 1313.6 528.7C1314.2 527.8 1316.6 528.2 1317.9 528.7C1319.1 529.3 1320.9 530.7 1321.2 532.1C1321.5 533.5 1319.8 536.3 1319.5 537.2" style="stroke-width:3.5"/>
<path d="M1311.3 539.7Q1319.8 548.9 1330.6 539.7" style="stroke-width:3.2"/>
<path d="M1311.3 544.7Q1319.8 554.0 1330.6 544.7" style="stroke-width:3.2"/>
<path d="M1311.3 549.8Q1319.8 559.0 1330.6 549.8" style="stroke-width:3.2"/>
<path d="M1311.3 554.8Q1319.8 564.1 1330.6 554.8" style="stroke-width:3.2"/>
<path d="M1311.3 559.9Q1319.8 569.1 1330.6 559.9" style="stroke-width:3.2"/>
<ellipse cx="1045.9" cy="354.8" rx="14.8" ry="17.5" transform="rotate(0.0 1045.9 354.8)"/>
<ellipse cx="1046.9" cy="354.8" rx="7.1" ry="10.4" transform="rotate(0.0 1046.9 354.8)"/>
<ellipse cx="1047.6" cy="355.4" rx="14.8" ry="17.5" transform="rotate(0.0 1047.6 355.4)"/>
<ellipse cx="1073.2" cy="352.4" rx="3.7" ry="9.1" transform="rotate(0.0 1073.2 352.4)"/>
<path d="M1071.8 343.3L1096.4 340.6"/>
<path d="M1074.5 361.5L1098.8 359.1"/>
<path d="M1077.2 343.0Q1070.1 352.1 1077.9 361.2"/>
<path d="M1081.9 343.0Q1074.9 352.1 1082.6 361.2"/>
<path d="M1086.6 343.0Q1079.6 352.1 1087.3 361.2"/>
<path d="M1103.1 330.5L1096.4 340.6L1099.8 357.5L1108.2 362.5L1116.6 361.8"/>
<path d="M1103.1 330.5L1108.2 347.4L1108.2 362.5"/>
<path d="M1108.2 347.4L1097.4 349.0"/>
<path d="M1103.1 330.5L1113.2 329.5"/>
<ellipse cx="1116.6" cy="345.7" rx="15.5" ry="16.2" transform="rotate(0.0 1116.6 345.7)"/>
<path d="M1091.4 349.0L1096.4 350.7" style="stroke-width:4"/>
<path d="M310.6 688.3Q308.6 679.6 318.6 680.3L480.6 635.2L506.0 634.3L515.5 639.1L517.1 643.8L563.2 672.4L571.1 670.8L577.4 677.2L574.3 683.5L566.3 686.7L564.7 689.9L398.0 737.5Q383.7 745.8 375.8 731.2L312.2 693.1Z"/>
<path d="M312.9 695.6L342.4 709.6"/>
<path d="M566.3 691.1L399.6 740.1"/>
<ellipse cx="455.2" cy="680.3" rx="40.7" ry="15.9" transform="rotate(0.0 455.2 680.3)"/>
<path d="M417.0 673.4Q425.3 665.6 432.3 666.1"/>
<ellipse cx="324.3" cy="687.3" rx="5.7" ry="2.5" transform="rotate(0.0 324.3 687.3)"/>
<ellipse cx="325.3" cy="688.0" rx="3.8" ry="1.6" transform="rotate(0.0 325.3 688.0)"/>
<ellipse cx="490.1" cy="642.2" rx="5.7" ry="2.5" transform="rotate(0.0 490.1 642.2)"/>
<ellipse cx="491.1" cy="642.9" rx="3.8" ry="1.6" transform="rotate(0.0 491.1 642.9)"/>
<ellipse cx="553.6" cy="680.3" rx="5.7" ry="2.5" transform="rotate(0.0 553.6 680.3)"/>
<ellipse cx="554.6" cy="681.0" rx="3.8" ry="1.6" transform="rotate(0.0 554.6 681.0)"/>
<ellipse cx="392.3" cy="728.0" rx="5.7" ry="2.5" transform="rotate(0.0 392.3 728.0)"/>
<ellipse cx="393.2" cy="728.6" rx="3.8" ry="1.6" transform="rotate(0.0 393.2 728.6)"/>
<ellipse cx="404.3" cy="693.1" rx="7.9" ry="3.8" transform="rotate(0.0 404.3 693.1)"/>
<ellipse cx="405.3" cy="693.7" rx="6.0" ry="2.9" transform="rotate(0.0 405.3 693.7)"/>
<path d="M316.0 768.6L316.0 836.6Q322.6 844.2 329.7 836.6L329.7 768.6"/>
<ellipse cx="322.7" cy="768.0" rx="6.7" ry="2.5" transform="rotate(0.0 322.7 768.0)"/>
<path d="M317.3 772.5Q322.4 776.3 328.7 772.5"/>
<path d="M317.3 776.9Q322.4 780.7 328.7 776.9"/>
<path d="M317.3 781.4Q322.4 785.2 328.7 781.4"/>
<path d="M317.3 785.8Q322.4 789.6 328.7 785.8"/>
<path d="M317.3 790.2Q322.4 794.1 328.7 790.2"/>
<path d="M317.3 810.6Q322.4 814.4 328.7 810.6"/>
<path d="M317.3 815.0Q322.4 818.8 328.7 815.0"/>
<path d="M317.3 819.5Q322.4 823.3 328.7 819.5"/>
<path d="M317.3 823.9Q322.4 827.7 328.7 823.9"/>
<path d="M317.3 828.4Q322.4 832.2 328.7 828.4"/>
<path d="M317.3 832.8Q322.4 836.6 328.7 832.8"/>
<path d="M326.5 886.8L467.9 847.1C468.9 845.9 471.0 841.1 474.2 839.8C477.4 838.5 482.2 838.2 486.9 839.2C491.7 840.1 499.6 843.1 502.8 845.5C506.0 847.9 505.5 852.1 506.0 853.5"/>
<path d="M485.3 855.0L512.3 867.7" stroke-dasharray="14 4 3 4"/>
<path d="M528.2 874.1L544.1 872.5L560.0 878.9L566.3 886.8L566.3 928.1"/>
<ellipse cx="322.7" cy="892.5" rx="5.7" ry="2.9" transform="rotate(0.0 322.7 892.5)"/>
<ellipse cx="482.8" cy="846.1" rx="5.7" ry="2.9" transform="rotate(0.0 482.8 846.1)"/>
<ellipse cx="551.1" cy="883.6" rx="5.7" ry="2.5" transform="rotate(0.0 551.1 883.6)"/>
<ellipse cx="404.3" cy="894.7" rx="7.0" ry="3.2" transform="rotate(0.0 404.3 894.7)"/>
<ellipse cx="391.0" cy="929.7" rx="5.7" ry="2.9" transform="rotate(0.0 391.0 929.7)"/>
<path d="M426.6 867.7C424.2 869.9 413.9 876.7 412.3 880.4C410.7 884.2 413.6 887.1 417.0 890.0C420.5 892.9 425.0 896.4 432.9 897.9C440.9 899.4 459.4 898.7 464.7 898.9" stroke-dasharray="30 4 3 4"/>
<path d="M480.6 867.7C482.7 869.3 491.2 874.1 493.3 877.3C495.4 880.4 495.4 883.9 493.3 886.8C491.2 889.7 482.7 893.4 480.6 894.7"/>
<path d="M321.8 885.2Q304.3 882.8 305.9 890.0L304.3 909.0Q304.3 921.7 348.8 915.4"/>
<path d="M328.1 899.5L375.8 890.0L371.0 918.6"/>
<path d="M375.8 890.0L385.3 902.7"/>
<path d="M409.1 910.6L391.6 918.6Q381.3 922.5 374.2 929.7L372.6 947.2Q376.6 959.9 402.8 953.5"/>
<path d="M402.8 909.0L410.1 910.6"/>
<path d="M399.6 931.3L445.6 920.2"/>
<path d="M553.6 905.9Q548.1 928.9 590.2 948.7"/>
<path d="M531.4 891.6L553.6 886.8"/>
<path d="M412.3 839.2L448.8 850.3"/>
<path d="M485.3 855.0L506.0 853.5"/>
</g>
<g class="ld">
<path d="M331.7 80.8L409.0 81.8"/>
<path d="M240.8 184.6L271.0 184.6"/>
<path d="M248.5 284.6L384.0 285.6"/>
<path d="M195.3 345.9L257.6 345.9L308.0 316.6"/>
<path d="M674.9 70.0L674.9 54.9L821.1 54.9L821.1 208.0L734.5 299.7"/>
<path d="M746.3 47.0L746.3 54.9"/>
<path d="M674.9 85.0L674.9 208.8L655.3 245.9"/>
<path d="M761.4 54.9L761.4 68.0"/>
<path d="M761.4 85.0L761.4 198.7L700.8 261.0"/>
<path d="M889.5 171.8L889.5 279.5"/>
<path d="M974.3 208.0L974.3 257.7"/>
<path d="M1066.3 250.2L1110.0 250.2"/>
<path d="M1132.0 345.9L1172.4 345.9"/>
<path d="M1052.6 370.9L1069.5 403.9L1123.4 403.9"/>
<path d="M1320.4 457.8L1320.4 493.9"/>
<path d="M1095.4 512.4L1095.4 554.5"/>
<path d="M1338.9 615.1L1376.0 615.1"/>
<path d="M824.6 330.9L841.4 349.5L841.4 418.5"/>
<path d="M907.7 386.5L936.4 443.8L997.0 443.8"/>
<path d="M209.5 431.6L239.8 431.6"/>
<path d="M165.7 522.9L229.0 522.9"/>
<path d="M256.0 689.3L311.5 689.3"/>
<path d="M255.6 800.9L315.5 800.9"/>
<path d="M741.9 747.2L782.3 747.2"/>
<path d="M868.2 757.6L930.5 757.6"/>
<path d="M740.2 809.5L821.0 809.5"/>
<path d="M696.4 898.7L715.6 898.7"/>
<path d="M928.8 893.0L959.1 893.0"/>
<path d="M1045.9 814.5L1045.9 762.3L1091.4 747.1"/>
<path d="M1166.5 934.0L1166.5 762.3L1303.5 580.4"/>
<path d="M1164.8 934.0L1394.5 934.0L1394.5 686.5L1338.9 656.2"/>
<path d="M1278.3 865.0L1278.3 945.8"/>
<path d="M835.0 950.4L835.0 983.0"/>
<circle cx="252.6" cy="431.6" r="11.5"/>
<circle cx="1108.9" cy="743.1" r="12"/>
</g>
<g style="opacity:.999;will-change:opacity;isolation:isolate" filter="url(#nf)">
<text x="236.8" y="75.8" textLength="64.6" lengthAdjust="spacingAndGlyphs" font-size="17.2">Refer to</text>
<text x="236.8" y="94.3" textLength="94.9" lengthAdjust="spacingAndGlyphs" font-size="17.2">FIG. 17–03</text>
<text x="141.5" y="177.5" textLength="64.5" lengthAdjust="spacingAndGlyphs" font-size="17.2">Refer to</text>
<text x="141.5" y="196.4" textLength="95.3" lengthAdjust="spacingAndGlyphs" font-size="17.2">FIG. 17–03</text>
<text x="152.6" y="272.0" textLength="65.4" lengthAdjust="spacingAndGlyphs" font-size="17.2">Refer to</text>
<text x="152.6" y="290.3" textLength="94.9" lengthAdjust="spacingAndGlyphs" font-size="17.2">FIG. 17–03</text>
<text x="125.6" y="350.3" textLength="68.7" lengthAdjust="spacingAndGlyphs" font-size="17.2">23280C</text>
<text x="717.0" y="44.5" textLength="68.7" lengthAdjust="spacingAndGlyphs" font-size="17.2">23802B</text>
<text x="646.9" y="80.8" textLength="68.1" lengthAdjust="spacingAndGlyphs" font-size="17.2">23280B</text>
<text x="732.8" y="82.5" textLength="69.7" lengthAdjust="spacingAndGlyphs" font-size="17.2">23280C</text>
<text x="859.8" y="168.4" textLength="68.4" lengthAdjust="spacingAndGlyphs" font-size="17.2">23801P</text>
<text x="945.0" y="204.8" textLength="69.0" lengthAdjust="spacingAndGlyphs" font-size="17.2">23801H</text>
<text x="1111.7" y="256.6" textLength="69.8" lengthAdjust="spacingAndGlyphs" font-size="17.2">23801G</text>
<text x="1174.5" y="351.8" textLength="69.1" lengthAdjust="spacingAndGlyphs" font-size="17.2">23260A</text>
<text x="1126.7" y="409.7" textLength="68.1" lengthAdjust="spacingAndGlyphs" font-size="17.2">23260B</text>
<text x="1291.8" y="451.1" textLength="70.0" lengthAdjust="spacingAndGlyphs" font-size="17.2">23300U</text>
<text x="1040.8" y="507.3" textLength="110.5" lengthAdjust="spacingAndGlyphs" font-size="17.2">90179-08146</text>
<text x="1377.6" y="620.2" textLength="67.4" lengthAdjust="spacingAndGlyphs" font-size="17.2">23807B</text>
<text x="811.8" y="433.7" textLength="69.0" lengthAdjust="spacingAndGlyphs" font-size="17.2">23801H</text>
<text x="1002.0" y="451.5" textLength="67.4" lengthAdjust="spacingAndGlyphs" font-size="17.2">23260B</text>
<text x="69.7" y="438.7" textLength="134.7" lengthAdjust="spacingAndGlyphs" font-size="17.2">94110-40800 (4)</text>
<text x="108.4" y="526.9" textLength="55.6" lengthAdjust="spacingAndGlyphs" font-size="17.2">22210</text>
<text x="201.0" y="695.5" textLength="53.3" lengthAdjust="spacingAndGlyphs" font-size="17.2">22271</text>
<text x="157.9" y="795.1" textLength="65.0" lengthAdjust="spacingAndGlyphs" font-size="17.2">Refer to</text>
<text x="157.9" y="814.3" textLength="92.0" lengthAdjust="spacingAndGlyphs" font-size="17.2">FIG. 17–01</text>
<text x="671.1" y="753.2" textLength="67.4" lengthAdjust="spacingAndGlyphs" font-size="17.2">22210D</text>
<text x="932.2" y="764.0" textLength="64.6" lengthAdjust="spacingAndGlyphs" font-size="17.2">22210F</text>
<text x="671.1" y="818.9" textLength="65.7" lengthAdjust="spacingAndGlyphs" font-size="17.2">22210E</text>
<text x="629.0" y="904.8" textLength="64.7" lengthAdjust="spacingAndGlyphs" font-size="17.2">22210F</text>
<text x="963.1" y="900.8" textLength="67.4" lengthAdjust="spacingAndGlyphs" font-size="17.2">22210C</text>
<text x="991.1" y="830.3" textLength="134.6" lengthAdjust="spacingAndGlyphs" font-size="17.2">91656-40616 (2)</text>
<text x="807.9" y="998.7" textLength="66.5" lengthAdjust="spacingAndGlyphs" font-size="17.2">22210E</text>
<text x="1135.8" y="919.5" textLength="67.7" lengthAdjust="spacingAndGlyphs" font-size="17.2">23300T</text>
<text x="1365.2" y="920.5" textLength="67.3" lengthAdjust="spacingAndGlyphs" font-size="17.2">23300T</text>
<text x="1250.7" y="964.3" textLength="67.3" lengthAdjust="spacingAndGlyphs" font-size="17.2">23300P</text>
<text x="1371.9" y="1029.3" textLength="66.4" lengthAdjust="spacingAndGlyphs" font-size="15">MF 3792</text>
<text x="252.6" y="438" text-anchor="middle" font-size="18" font-weight="bold" style="stroke:none">N</text>
<text x="1108.9" y="749.6" text-anchor="middle" font-size="18" font-weight="bold" style="stroke:none">B</text>
</g>
</svg>
</body></html>
